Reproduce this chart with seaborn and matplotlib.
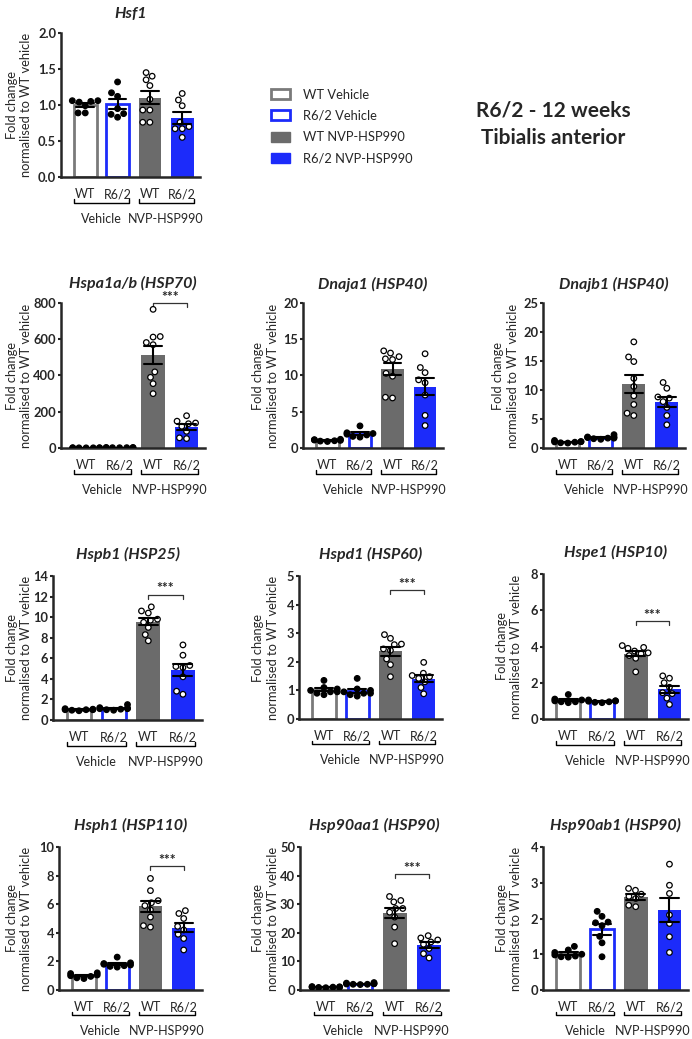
import warnings
import numpy as np
import pandas as pd
import matplotlib
matplotlib.use("Agg")
import matplotlib.pyplot as plt
import matplotlib.transforms as mtransforms
from matplotlib.patches import Patch
from matplotlib.ticker import FormatStrFormatter
import seaborn as sns

warnings.filterwarnings("ignore")

# ---------------------------------------------------------
# DATA
# ---------------------------------------------------------
GROUPS = ["WT Vehicle", "R6/2 Vehicle", "WT NVP-HSP990", "R6/2 NVP-HSP990"]
TICK_LABELS = ["WT", "R6/2", "WT", "R6/2"]
TREATMENTS = ["Vehicle", "NVP-HSP990"]

HSF1 = [[1.05, 1.06, 0.99, 1.04, 0.89, 0.89, 1.06],
        [1.32, 1.17, 1.12, 0.95, 0.83, 0.88, 0.87],
        [1.45, 1.40, 1.35, 1.27, 1.08, 0.93, 0.93, 0.76, 0.76],
        [1.16, 1.07, 0.99, 0.76, 0.70, 0.67, 0.67, 0.55]]
HSPA1AB = [[1.2, 0.9, 1.0, 1.1, 0.8, 1.0, 1.0],
           [2.5, 1.8, 2.1, 1.6, 2.2, 1.9, 2.0],
           [765, 615, 612, 582, 570, 420, 390, 355, 300],
           [178, 148, 138, 134, 120, 92, 56, 52]]
DNAJA1 = [[1.2, 1.1, 0.9, 1.0, 1.05, 0.95, 1.15],
          [3.05, 2.1, 2.0, 1.9, 1.8, 1.6, 1.5],
          [13.4, 13.1, 12.6, 12.3, 12.2, 10.3, 9.9, 7.0, 6.9],
          [13.0, 11.1, 10.4, 9.4, 9.0, 7.3, 4.5, 3.1]]
DNAJB1 = [[1.3, 1.1, 0.9, 1.0, 1.05, 0.85, 1.1],
          [2.3, 1.9, 1.8, 1.7, 1.6, 1.9, 1.5, 1.7],
          [18.3, 15.7, 14.9, 12.0, 10.6, 9.0, 7.5, 6.0, 5.6],
          [11.3, 10.3, 8.8, 8.6, 8.0, 7.0, 5.6, 4.0]]
HSPB1 = [[1.1, 1.0, 0.95, 1.05, 0.9, 1.0, 1.0],
         [1.5, 1.2, 1.1, 1.0, 1.05, 1.15, 0.95, 1.1],
         [11.0, 10.6, 10.4, 9.7, 9.8, 9.5, 9.0, 8.3, 7.7],
         [7.3, 6.3, 5.3, 5.2, 5.1, 4.2, 2.8, 2.5]]
HSPD1 = [[1.35, 1.1, 1.05, 1.0, 0.95, 0.9, 0.85, 0.95],
         [1.42, 1.05, 1.0, 0.95, 0.9, 0.85, 0.8, 0.9],
         [2.95, 2.82, 2.62, 2.6, 2.45, 2.4, 2.1, 1.9, 1.48],
         [1.98, 1.6, 1.52, 1.48, 1.42, 1.3, 1.1, 0.88]]
HSPE1 = [[1.35, 1.1, 1.05, 1.0, 0.95, 0.95, 0.9],
         [1.05, 1.0, 1.0, 0.98, 0.95, 0.92, 0.9],
         [4.05, 3.95, 3.9, 3.75, 3.65, 3.6, 3.5, 3.35, 2.6],
         [2.38, 2.25, 2.0, 1.75, 1.45, 1.4, 1.15, 0.8]]
HSPH1 = [[1.2, 1.15, 1.05, 1.0, 0.95, 0.85, 0.8],
         [2.3, 1.9, 1.85, 1.8, 1.75, 1.7, 1.65, 1.6],
         [7.8, 6.95, 6.25, 6.1, 5.9, 5.6, 5.1, 4.5, 4.4],
         [5.55, 5.35, 5.0, 4.45, 4.2, 3.9, 3.6, 2.8]]
HSP90AA1 = [[1.2, 1.0, 0.9, 1.1, 0.8, 1.0, 1.0],
            [2.6, 2.4, 2.2, 2.1, 2.0, 2.0, 1.9, 2.2],
            [32.7, 31.3, 30.8, 28.5, 28.5, 27.2, 25.5, 22.0, 16.2],
            [19.0, 18.2, 17.5, 16.8, 16.0, 14.5, 12.7, 11.2]]
HSP90AB1 = [[1.22, 1.12, 1.05, 1.0, 0.98, 0.95, 0.92, 0.93],
            [2.2, 2.06, 1.9, 1.88, 1.8, 1.5, 1.32, 0.93],
            [2.84, 2.79, 2.68, 2.62, 2.56, 2.37, 2.33],
            [3.52, 2.93, 2.7, 2.1, 1.86, 1.49, 1.05]]

GENES = ["Hsf1", "Hspa1a/b (HSP70)", "Dnaja1 (HSP40)", "Dnajb1 (HSP40)",
         "Hspb1 (HSP25)", "Hspd1 (HSP60)", "Hspe1 (HSP10)",
         "Hsph1 (HSP110)", "Hsp90aa1 (HSP90)", "Hsp90ab1 (HSP90)"]
VALUES = [HSF1, HSPA1AB, DNAJA1, DNAJB1, HSPB1, HSPD1, HSPE1, HSPH1, HSP90AA1, HSP90AB1]
YMAX = [2.0, 800, 20, 25, 14, 5, 8, 10, 50, 4]
YSTEP = [0.5, 200, 5, 5, 2, 1, 2, 2, 10, 1]
# height of the "***" bracket between the two NVP-HSP990 bars (None = no bracket)
SIG_Y = [None, 800, None, None, 12.2, 4.5, 5.4, 8.65, 40.5, None]

# ---------------------------------------------------------
# STYLE / LAYOUT
# ---------------------------------------------------------
W, H = 692, 1039
GRAY_EDGE = "#7a7a7a"
GRAY_FILL = "#6b6b6b"
BLUE = "#1c2bfa"
BAR_COLORS = [GRAY_EDGE, BLUE, GRAY_FILL, BLUE]

# axes boxes in pixels: left, top, right, bottom
BOXES = [(61, 33, 200, 177),
         (61, 303, 205, 448), (303, 303, 443, 448), (543, 303, 685, 448),
         (53, 576, 202, 720), (299, 576, 442, 719), (543, 574, 688, 719),
         (59, 847, 202, 990), (300, 847, 448, 990), (543, 847, 688, 990)]
# right edge (px) of the rotated y label for each panel
YLABEL_X = [32, 32, 279, 519, 32, 279, 522, 32, 279, 522]
TITLE_PAD = [11, 11, 10, 10, 12, 12, 12, 12, 12, 12]


def make_frame(values):
    rows = []
    for g, vals in zip(GROUPS, values):
        treat = "Vehicle" if "Vehicle" in g else "NVP-HSP990"
        for v in vals:
            rows.append({"group": g, "value": v, "treatment": treat})
    return pd.DataFrame(rows)


def draw_panel(fig, ax, i):
    df = make_frame(VALUES[i])
    ymax, ystep, sig_y = YMAX[i], YSTEP[i], SIG_Y[i]
    pal = dict(zip(GROUPS, BAR_COLORS))
    sns.barplot(data=df, x="group", y="value", hue="group", order=GROUPS, hue_order=GROUPS,
                palette=pal, errorbar="se", capsize=0.55, width=0.7, saturation=1,
                err_kws={"color": "black", "linewidth": 1.5}, legend=False, ax=ax)
    for p in ax.patches:
        idx = int(round(p.get_x() + p.get_width() / 2))
        if idx < 2:
            p.set_facecolor("white")
            p.set_edgecolor(BAR_COLORS[idx])
            p.set_linewidth(2.0)
        else:
            p.set_edgecolor(BAR_COLORS[idx])
            p.set_linewidth(0)
    for line in ax.lines:
        line.set_zorder(5)

    sns.swarmplot(data=df, x="group", y="value", hue="treatment", order=GROUPS,
                  hue_order=TREATMENTS, palette={"Vehicle": "black", "NVP-HSP990": "white"},
                  edgecolor="black", linewidth=0.9, size=4.0, legend=False, ax=ax, zorder=4)

    ax.set_xlim(-0.75, 3.55)
    ax.set_ylim(0, ymax)
    ax.set_yticks(np.arange(0, ymax + ystep / 2, ystep))
    if ystep < 1:
        ax.yaxis.set_major_formatter(FormatStrFormatter("%.1f"))
    ax.set_xticks(range(4))
    ax.set_xticklabels(TICK_LABELS)
    ax.set_xlabel("")
    ax.set_ylabel("Fold change\nnormalised to WT vehicle", fontsize=9.3, linespacing=1.25)
    trans_lab = mtransforms.blended_transform_factory(fig.transFigure, ax.transAxes)
    ax.yaxis.set_label_coords(YLABEL_X[i] / W, 0.5, transform=trans_lab)
    ax.set_title(GENES[i], fontsize=11.5, fontweight="bold", fontstyle="italic", pad=TITLE_PAD[i])

    sns.despine(ax=ax)
    for s in ["left", "bottom"]:
        ax.spines[s].set_linewidth(1.8)
    ax.tick_params(axis="y", length=2.5, width=1.5, labelsize=9.3, pad=1)
    ax.tick_params(axis="x", length=0, labelsize=9, pad=8)
    for lab in ax.get_yticklabels():
        lab.set_fontweight("bold")

    # group brackets under the x axis
    trans = ax.get_xaxis_transform()
    for k, name in enumerate(TREATMENTS):
        x0, x1 = 2 * k - 0.35, 2 * k + 1.35
        ax.plot([x0, x0, x1, x1], [-0.152, -0.178, -0.178, -0.152], transform=trans,
                color="black", lw=1.0, clip_on=False)
        ax.text((x0 + x1) / 2, -0.29, name, transform=trans, ha="center", va="center",
                fontsize=9)

    # significance bracket
    if sig_y is not None:
        d = 0.028 * ymax
        ax.plot([2, 2, 3, 3], [sig_y - d, sig_y, sig_y, sig_y - d], color="#333333",
                lw=0.9, clip_on=False)
        ax.text(2.5, sig_y + 0.015 * ymax, "***", ha="center", va="baseline", fontsize=10,
                fontweight="bold", clip_on=False)


def main():
    sns.set_style("ticks")
    plt.rcParams["font.family"] = ["Lato", "DejaVu Sans"]

    fig = plt.figure(figsize=(W / 100, H / 100), dpi=100)
    for i, (l, t, r, b) in enumerate(BOXES):
        ax = fig.add_axes([l / W, 1 - b / H, (r - l) / W, (b - t) / H])
        draw_panel(fig, ax, i)

    handles = [Patch(facecolor="white", edgecolor=GRAY_EDGE, linewidth=2),
               Patch(facecolor="white", edgecolor=BLUE, linewidth=2),
               Patch(facecolor=GRAY_FILL, edgecolor=GRAY_FILL),
               Patch(facecolor=BLUE, edgecolor=BLUE)]
    fig.legend(handles, GROUPS, loc="upper left", bbox_to_anchor=(259 / W, 1 - 77 / H),
               frameon=False, fontsize=9.3, handlelength=1.5, handleheight=0.8,
               labelspacing=0.72, handletextpad=1.0)

    fig.text(553 / W, 1 - 110 / H, "R6/2 - 12 weeks", ha="center", va="center",
             fontsize=15, fontweight="bold")
    fig.text(553 / W, 1 - 138 / H, "Tibialis anterior", ha="center", va="center",
             fontsize=15, fontweight="bold")

    fig.savefig("out.png", dpi=100)
    plt.close(fig)


if __name__ == "__main__":
    main()
